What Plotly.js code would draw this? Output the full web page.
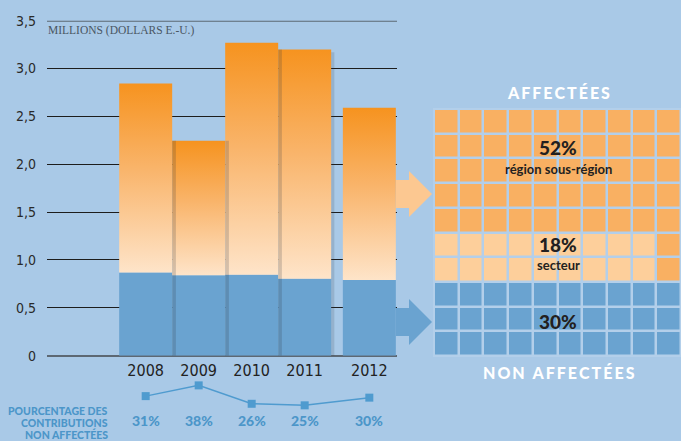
<!DOCTYPE html>
<html>
<head>
<meta charset="utf-8">
<script src="https://cdn.plot.ly/plotly-3.0.1.min.js"></script>
<style>
  html, body { margin: 0; padding: 0; background: #a9c9e7; }
  #chart { width: 681px; height: 441px; }
</style>
</head>
<body>
<div id="chart"></div>
<script>
// ---- data ----
const years = ['2008', '2009', '2010', '2011', '2012'];
const unearmarked = [0.87, 0.84, 0.845, 0.805, 0.79];      // millions USD (blue)
const totals = [2.845, 2.245, 3.27, 3.20, 2.59];            // millions USD (bar total)
const unearmarkedPct = [31, 38, 26, 25, 30];                // %
const yTicks = [0, 0.5, 1.0, 1.5, 2.0, 2.5, 3.0, 3.5];
const waffleShares = [52, 18, 30];                          // region/sub-region, sector, non earmarked
const waffleNames = ['région sous-région', 'secteur', ''];
const groupTitles = ['AFFECTÉES', 'NON AFFECTÉES'];
const unitLabel = 'MILLIONS (DOLLARS E.-U.)';
const pctTitle = ['POURCENTAGE DES', 'CONTRIBUTIONS', 'NON AFFECTÉES'];

// ---- layout helpers ----
const W = 681, H = 441;
const px = x => x / W;
const py = y => (H - y) / H;
const slotShift = [0, 0, 0, 0, 0.22];
const pos = years.map((_, i) => i + slotShift[i]);
const spaced = s => s.split('').join('\u2009');

const BG = '#a9c9e7';
const BLUE = '#6aa3d0';
const LINEBLUE = '#4f9bcf';
const condensed = '"Liberation Sans Narrow", "DejaVu Sans Condensed", sans-serif';
const bold = 'Lato, "Noto Sans", sans-serif';

const traces = [];

// blue (non earmarked) portion
traces.push({
  type: 'bar', x: pos, y: unearmarked, width: 1, base: 0,
  marker: { color: BLUE, line: { width: 0 } },
  xaxis: 'x', yaxis: 'y', hoverinfo: 'skip', showlegend: false
});

// orange (earmarked) portion with vertical gradient
years.forEach((_, i) => {
  const x0 = pos[i] - 0.5, x1 = pos[i] + 0.5;
  traces.push({
    type: 'scatter', mode: 'lines',
    x: [x0, x1, x1, x0, x0],
    y: [unearmarked[i], unearmarked[i], totals[i], totals[i], unearmarked[i]],
    fill: 'toself',
    fillgradient: { type: 'vertical', colorscale: [[0, '#fee4c9'], [0.55, '#f9b46a'], [1, '#f6931f']] },
    line: { width: 0 },
    xaxis: 'x', yaxis: 'y', hoverinfo: 'skip', showlegend: false
  });
});

// percentage line
traces.push({
  type: 'scatter', mode: 'lines+markers', x: pos, y: unearmarkedPct,
  line: { color: LINEBLUE, width: 1.5 },
  marker: { symbol: 'square', size: 8, color: LINEBLUE },
  xaxis: 'x2', yaxis: 'y2', hoverinfo: 'skip', showlegend: false
});

// waffle 10x10
const nCols = 10, nRows = 10;
const blueRows = Math.round(waffleShares[2] / nCols);
const lightRows = Math.ceil(waffleShares[1] / nCols);
const lightCols = waffleShares[1] / lightRows;
const z = [];
for (let r = 0; r < nRows; r++) {
  const row = [];
  for (let c = 0; c < nCols; c++) {
    if (r >= nRows - blueRows) row.push(0);
    else if (r >= nRows - blueRows - lightRows && c < lightCols) row.push(1);
    else row.push(2);
  }
  z.push(row);
}
traces.push({
  type: 'heatmap', z: z, x: [...Array(nCols).keys()], y: [...Array(nRows).keys()],
  colorscale: [[0, BLUE], [0.5, '#fdcf9b'], [1, '#f9b062']], zmin: 0, zmax: 2,
  showscale: false, xgap: 2.5, ygap: 2.5, hoverinfo: 'skip',
  xaxis: 'x3', yaxis: 'y3'
});

// ---- annotations ----
const ann = [];
ann.push({ xref: 'paper', yref: 'paper', x: px(46), y: py(30.5), xanchor: 'left', yanchor: 'middle',
  text: unitLabel, showarrow: false, font: { family: '"Liberation Serif", serif', size: 11.5, color: '#4a5663' } });
unearmarkedPct.forEach((v, i) => {
  ann.push({ xref: 'x', yref: 'paper', x: pos[i], y: py(420.5), xanchor: 'center', yanchor: 'middle',
    text: v + '%', showarrow: false, font: { family: bold, size: 14, weight: 900, color: '#4c96c9' } });
});
pctTitle.forEach((t, i) => {
  ann.push({ xref: 'paper', yref: 'paper', x: px(110), y: py(411 + 11.5 * i), xanchor: 'right', yanchor: 'middle',
    text: t, showarrow: false, font: { family: bold, size: 10.5, weight: 900, color: '#4c96c9' } });
});
ann.push({ xref: 'paper', yref: 'paper', x: px(558), y: py(92.5), xanchor: 'center', yanchor: 'middle',
  text: spaced(groupTitles[0]), showarrow: false, font: { family: bold, size: 16, weight: 900, color: '#ffffff' } });
ann.push({ xref: 'paper', yref: 'paper', x: px(559), y: py(372), xanchor: 'center', yanchor: 'middle',
  text: spaced(groupTitles[1]), showarrow: false, font: { family: bold, size: 16, weight: 900, color: '#ffffff' } });
const shareY = [147, 244.5, 321.5];
const nameY = [169, 265, 0];
waffleShares.forEach((v, i) => {
  ann.push({ xref: 'paper', yref: 'paper', x: px(558), y: py(shareY[i]), xanchor: 'center', yanchor: 'middle',
    text: v + '%', showarrow: false, font: { family: bold, size: 19, weight: 900, color: '#231f20' } });
  if (waffleNames[i]) {
    ann.push({ xref: 'paper', yref: 'paper', x: px(558), y: py(nameY[i]), xanchor: 'center', yanchor: 'middle',
      text: waffleNames[i], showarrow: false, font: { family: bold, size: 13, weight: 700, color: '#231f20' } });
  }
});

// ---- shapes ----
function arrowPath(yTop, yBot, headTop, headBot, tipY) {
  const pts = [[396, yTop], [409, yTop], [409, headTop], [432, tipY], [409, headBot], [409, yBot], [396, yBot]];
  return 'M' + pts.map(p => px(p[0]) + ',' + py(p[1])).join(' L') + ' Z';
}
const shapes = [
  // grid background for waffle
  { type: 'rect', xref: 'paper', yref: 'paper', x0: px(433), x1: 1, y0: py(357), y1: py(108),
    fillcolor: '#b3cfea', line: { width: 0 }, layer: 'below' },
  // top rule at 3.5
  { type: 'line', xref: 'paper', yref: 'y', x0: px(47), x1: px(397), y0: 3.5, y1: 3.5,
    line: { color: '#5d6873', width: 2 }, layer: 'below' },
  // arrows
  { type: 'path', xref: 'paper', yref: 'paper', path: arrowPath(180, 208, 171, 217, 194),
    fillcolor: '#fcc891', line: { width: 0 }, layer: 'above' },
  { type: 'path', xref: 'paper', yref: 'paper', path: arrowPath(308, 336, 299, 345, 322),
    fillcolor: BLUE, line: { width: 0 }, layer: 'above' }
];
// soft shadows between adjacent bars (decorative)
for (let i = 1; i < 4; i++) {
  const xb = pos[i] - 0.5;
  shapes.push({ type: 'rect', xref: 'x', yref: 'y', x0: xb, x1: xb + 0.07, y0: 0,
    y1: Math.min(totals[i], totals[i - 1]), fillcolor: 'rgba(50,55,65,0.2)', line: { width: 0 }, layer: 'above' });
}
shapes.push({ type: 'rect', xref: 'x', yref: 'y', x0: pos[3] + 0.5, x1: pos[3] + 0.56, y0: 0,
  y1: totals[3] - 0.03, fillcolor: 'rgba(50,55,65,0.16)', line: { width: 0 }, layer: 'above' });

const layout = {
  width: W, height: H,
  margin: { l: 0, r: 0, t: 0, b: 0 },
  paper_bgcolor: BG, plot_bgcolor: 'rgba(0,0,0,0)',
  separators: ', ',
  showlegend: false,
  xaxis: {
    domain: [px(47), px(397)], range: [-1.862, 4.742], anchor: 'y',
    tickmode: 'array', tickvals: pos, ticktext: years,
    showgrid: false, zeroline: false, showline: false, ticks: '',
    ticklabelstandoff: 3,
    tickfont: { family: condensed, size: 16, color: '#222222' }, fixedrange: true
  },
  yaxis: {
    domain: [py(355.7), py(20.7)], range: [0, 3.5], anchor: 'x',
    tickmode: 'array', tickvals: yTicks,
    ticktext: yTicks.map(v => v === 0 ? '0' : v.toFixed(1).replace('.', ',')),
    showgrid: true, gridcolor: '#1d1d1d', gridwidth: 1,
    zeroline: true, zerolinecolor: '#5d6873', zerolinewidth: 2,
    showline: false, ticks: '', ticklabelstandoff: 10,
    tickfont: { family: condensed, size: 14, color: '#2a2a2a' }, fixedrange: true
  },
  xaxis2: {
    domain: [px(47), px(397)], range: [-1.862, 4.742], anchor: 'y2',
    visible: false, fixedrange: true
  },
  yaxis2: {
    domain: [py(415), py(380)], range: [18.7, 41.5], anchor: 'x2',
    visible: false, fixedrange: true
  },
  xaxis3: {
    domain: [px(434), 1], range: [-0.5, 9.5], anchor: 'y3',
    visible: false, fixedrange: true
  },
  yaxis3: {
    domain: [py(356), py(109)], range: [9.5, -0.5], anchor: 'x3',
    visible: false, fixedrange: true
  },
  annotations: ann,
  shapes: shapes
};

Plotly.newPlot('chart', traces, layout, { staticPlot: true, displayModeBar: false });
</script>
</body>
</html>
